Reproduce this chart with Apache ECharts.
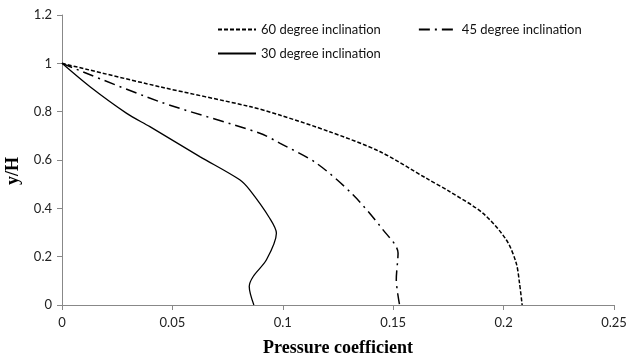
<!DOCTYPE html>
<html>
<head>
<meta charset="utf-8">
<style>
  html, body { margin: 0; padding: 0; background: #fff; }
  #chart { width: 628px; height: 360px; }
</style>
<script src="https://cdn.jsdelivr.net/npm/echarts@6/dist/echarts.min.js"></script>
</head>
<body>
<div id="chart"></div>
<script>
// Pressure coefficient profiles along the height (y/H) for three inclinations
var seriesNames = ['60 degree inclination', '45 degree inclination', '30 degree inclination'];

// [pressure coefficient, y/H]
var incl60 = [
  [0, 1], [0.0443, 0.903], [0.0851, 0.821], [0.0986, 0.786], [0.1212, 0.717], [0.1439, 0.635],
  [0.1649, 0.525], [0.1756, 0.469], [0.1906, 0.38], [0.2012, 0.27], [0.2057, 0.174],
  [0.2072, 0.091], [0.2084, 0]
];
var incl45 = [
  [0, 1], [0.0443, 0.841], [0.0896, 0.711], [0.0986, 0.67], [0.1152, 0.587], [0.1318, 0.456],
  [0.1454, 0.311], [0.1522, 0.215], [0.1514, 0.105], [0.1529, 0]
];
var incl30 = [
  [0, 1], [0.0127, 0.903], [0.0293, 0.793], [0.0398, 0.738], [0.0624, 0.614], [0.0805, 0.518],
  [0.085, 0.476], [0.094, 0.36], [0.0971, 0.297], [0.0926, 0.187], [0.0866, 0.118],
  [0.0848, 0.077], [0.0869, 0]
];

var xTicks = { min: 0, max: 0.25, interval: 0.05 };
var yTicks = { min: 0, max: 1.2, interval: 0.2 };

var chart = echarts.init(document.getElementById('chart'), null, { renderer: 'canvas' });
var sansFont = 'Lato, "Open Sans", sans-serif';
var serifFont = '"Liberation Serif", "Times New Roman", serif';
var tickFont = { fontFamily: sansFont, fontSize: 13, color: '#222' };
var axisLine = { show: true, lineStyle: { color: '#888', width: 1 } };

function lineSeries(name, data, type, width) {
  return {
    name: name, type: 'line', data: data, smooth: 0.3,
    symbol: 'none', showSymbol: false, animation: false,
    lineStyle: { color: '#000', width: width, type: type },
    itemStyle: { color: '#000' }
  };
}

var legendText = { fontFamily: sansFont, fontSize: 13, color: '#111' };

chart.setOption({
  animation: false,
  backgroundColor: '#fff',
  grid: { left: 62, right: 14, top: 15, bottom: 55, outerBoundsMode: 'none', containLabel: false },
  legend: [
    {
      data: [seriesNames[0], seriesNames[1]], left: 212, top: 18, itemWidth: 38, itemHeight: 10, itemGap: 37,
      itemStyle: { opacity: 0 }, textStyle: legendText
    },
    {
      data: [seriesNames[2]], left: 212, top: 42, itemWidth: 38, itemHeight: 10,
      itemStyle: { opacity: 0 }, textStyle: legendText
    }
  ],
  xAxis: {
    type: 'value', min: xTicks.min, max: xTicks.max, interval: xTicks.interval,
    name: 'Pressure coefficient', nameLocation: 'middle', nameGap: 34,
    nameTextStyle: { fontFamily: serifFont, fontWeight: 'bold', fontSize: 18, color: '#000' },
    axisLine: axisLine,
    axisTick: { show: true, length: 5, lineStyle: { color: '#888' } },
    axisLabel: Object.assign({ margin: 11, formatter: function (v) { return String(+v.toFixed(2)); } }, tickFont),
    splitLine: { show: false }
  },
  yAxis: {
    type: 'value', min: yTicks.min, max: yTicks.max, interval: yTicks.interval,
    name: 'y/H', nameLocation: 'middle', nameGap: 40, nameRotate: 90,
    nameTextStyle: { fontFamily: serifFont, fontWeight: 'bold', fontSize: 18, color: '#000', padding: [0, 22, 0, 0] },
    axisLine: axisLine,
    axisTick: { show: true, length: 5, lineStyle: { color: '#888' } },
    axisLabel: Object.assign({ margin: 10, formatter: function (v) { return String(+v.toFixed(1)); } }, tickFont),
    splitLine: { show: false }
  },
  series: [
    lineSeries(seriesNames[0], incl60, [4, 2], 1.5),
    lineSeries(seriesNames[1], incl45, [11, 5, 2, 5], 1.5),
    lineSeries(seriesNames[2], incl30, 'solid', 1.3)
  ]
});
</script>
</body>
</html>
